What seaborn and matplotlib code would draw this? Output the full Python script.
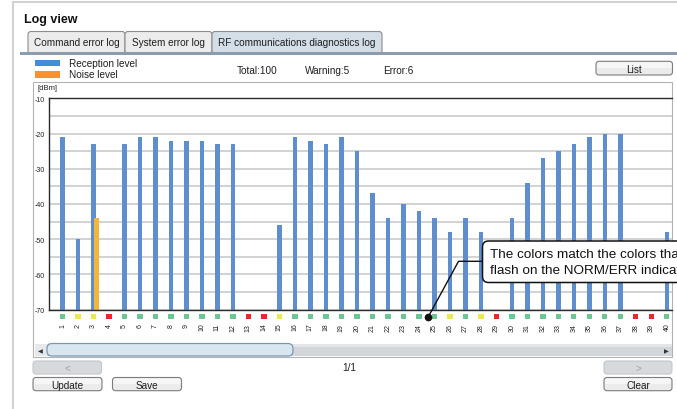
import numpy as np
import pandas as pd
import matplotlib.pyplot as plt
import seaborn as sns
from matplotlib.patches import FancyBboxPatch, Rectangle

sample_no = list(range(1, 41))
reception_dbm = [-21, -50, -23, np.nan, -23, -21, -21, -22, -22, -22,
                 -23, -23, np.nan, np.nan, -46, -21, -22, -23, -21, -25,
                 -37, -44, -40, -42, -44, -48, -44, -48, np.nan, -44,
                 -34, -27, -25, -23, -21, -20, -20, np.nan, np.nan, -48]
noise_sample = [3]
noise_dbm = [-44]
status = ['norm', 'warn', 'warn', 'err', 'norm', 'norm', 'norm', 'norm', 'norm', 'norm',
          'norm', 'norm', 'err', 'err', 'warn', 'norm', 'norm', 'norm', 'norm', 'norm',
          'norm', 'norm', 'norm', 'norm', 'norm', 'warn', 'norm', 'warn', 'err', 'norm',
          'norm', 'norm', 'norm', 'norm', 'norm', 'norm', 'norm', 'err', 'err', 'norm']
y_ticks_dbm = [-70, -60, -50, -40, -30, -20, -10]

FLOOR = -70
TOP = -10

BLUE = '#5f8ecf'
ORANGE = '#f4b53a'
STATUS_COLORS = {'norm': '#6cc794', 'warn': '#ece94a', 'err': '#e8282b'}

W, H = 677, 410

sns.set_style("white")
plt.rcParams['font.family'] = ['Liberation Sans', 'DejaVu Sans']

fig = plt.figure(figsize=(W / 100, H / 100), dpi=100)
fig.patch.set_facecolor('white')

# background "UI" axes in pixel coordinates (origin top-left)
ui = fig.add_axes([0, 0, 1, 1], zorder=0)
ui.set_xlim(0, W)
ui.set_ylim(H, 0)
ui.axis('off')


def button(ax, x0, y0, x1, y1, label, enabled=True):
    face = '#ebebeb' if enabled else '#d7dadd'
    edge = '#7d7d7d' if enabled else '#c2c6ca'
    ax.add_patch(FancyBboxPatch((x0, y0), x1 - x0, y1 - y0,
                                boxstyle='round,pad=0,rounding_size=3',
                                fc=face, ec=edge, lw=0.8))
    if enabled:
        # lighter upper half for the glossy look
        ax.add_patch(FancyBboxPatch((x0 + 1, y0 + 1), x1 - x0 - 2, (y1 - y0) / 2 - 1,
                                    boxstyle='round,pad=0,rounding_size=2',
                                    fc='#f6f6f6', ec='none'))
    ax.text((x0 + x1) / 2, (y0 + y1) / 2 + 0.5, label, ha='center', va='center',
            fontsize=7.2, color='#1e1e1e' if enabled else '#9ea3a8')


# outer frame
ui.plot([13, 13], [3, H], color='#d2d2d2', lw=1.5)
ui.plot([13, W], [3, 3], color='#d2d2d2', lw=1.5)
ui.text(24, 20, 'Log view', fontsize=9, fontweight='bold', va='center', color='#111')

# tabs
tabs = [(28, 125, 'Command error log', '#ececec'),
        (125, 212, 'System error log', '#ececec'),
        (212, 382, 'RF communications diagnostics log', '#d3dee7')]
for x0, x1, label, fc in tabs:
    ui.add_patch(FancyBboxPatch((x0, 32.5), x1 - x0, 22, boxstyle='round,pad=0,rounding_size=3',
                                fc=fc, ec='#8c8c8c', lw=0.8))
    ui.text(x0 + 6.5, 43.5, label, fontsize=7.2, va='center', color='#1e1e1e')
ui.add_patch(Rectangle((20, 52.8), W - 20, 3.6, fc='#8a9cae', ec='none'))

# legend and counters
ui.add_patch(Rectangle((35, 60.7), 25, 6.6, fc='#3d8fd9', ec='none'))
ui.add_patch(Rectangle((35, 72), 25, 6.6, fc='#f39237', ec='none'))
ui.text(69, 64.3, 'Reception level', fontsize=7.2, va='center', color='#1e1e1e')
ui.text(69, 75.3, 'Noise level', fontsize=7.2, va='center', color='#1e1e1e')
warn_count = status.count('warn')
err_count = status.count('err')
ui.text(237, 71, f'Total:{100}', fontsize=7.2, va='center', color='#1e1e1e')
ui.text(305, 71, f'Warning:{warn_count}', fontsize=7.2, va='center', color='#1e1e1e')
ui.text(383, 71, f'Error:{err_count}', fontsize=7.2, va='center', color='#1e1e1e')
button(ui, 596, 62.3, 672.5, 76, 'List')

# chart box
ui.add_patch(Rectangle((33, 82.5), 639, 275, fc='white', ec='#b3b3b3', lw=0.8))
ui.text(37, 88, '[dBm]', fontsize=5.5, va='center', color='#222')

# scrollbar
ui.add_patch(Rectangle((35, 345), 637, 12, fc='#d2d6db', ec='none'))
ui.add_patch(Rectangle((35, 345), 637, 3, fc='#e3e6e9', ec='none'))
ui.add_patch(Rectangle((35, 345), 12, 12, fc='#e6e9ec', ec='none'))
ui.add_patch(FancyBboxPatch((47, 344.5), 246, 12.5, boxstyle='round,pad=0,rounding_size=5',
                            fc='#d8e6f1', ec='#7b97b1', lw=0.9))
ui.text(40.5, 351.5, '\u25c0', fontsize=4.5, ha='center', va='center', color='#333')
ui.text(666, 352, '\u25b6', fontsize=4.5, ha='center', va='center', color='#333')

# navigation and action buttons
button(ui, 33, 362, 101.5, 375, '<', enabled=False)
button(ui, 604, 362, 672, 375, '>', enabled=False)
button(ui, 33, 378.5, 102, 391.7, 'Update')
button(ui, 112.5, 378.5, 181.5, 391.7, 'Save')
button(ui, 604, 378.5, 672, 391.7, 'Clear')
ui.text(349, 368.3, '1/1', fontsize=7.2, ha='center', va='center', color='#1e1e1e')

# --- Bar chart ---
ax_left, ax_right, ax_top, ax_bottom = 49, 672, 99.3, 310.5
ax = fig.add_axes([ax_left / W, 1 - ax_bottom / H, (ax_right - ax_left) / W, (ax_bottom - ax_top) / H],
                  zorder=1)
ax.patch.set_visible(False)

df = pd.DataFrame({'sample': sample_no, 'dbm': reception_dbm, 'status': status})
df['level'] = df['dbm'] - FLOOR
bars = df.dropna(subset=['dbm'])
noise = pd.DataFrame({'sample': [s + 0.18 for s in noise_sample],
                      'level': [v - FLOOR for v in noise_dbm]})

sns.barplot(data=bars, x='sample', y='level', native_scale=True, width=0.3, color=BLUE,
            saturation=1, errorbar=None, linewidth=0, ax=ax)
sns.barplot(data=noise, x='sample', y='level', native_scale=True, width=0.3, color=ORANGE,
            saturation=1, errorbar=None, linewidth=0, ax=ax)
sns.scatterplot(x=df['sample'], y=[-2.0] * len(df), hue=df['status'], palette=STATUS_COLORS,
                marker='s', s=14, linewidth=0, legend=False, clip_on=False, zorder=4, ax=ax)

ax.set_xlim(0.13, 40.33)
ax.set_ylim(0, TOP - FLOOR)
ax.set_xticks(sample_no)
ax.set_xticklabels([str(s) for s in sample_no], rotation=90, fontsize=5, color='#222')
ax.set_yticks([t - FLOOR for t in y_ticks_dbm])
ax.set_yticklabels([str(t) for t in y_ticks_dbm], fontsize=5, color='#222')
ax.set_yticks(list(range(5, TOP - FLOOR, 10)), minor=True)
ax.tick_params(axis='x', length=0, pad=9.5)
ax.tick_params(axis='y', which='major', length=1.5, width=0.8, pad=1.5, color='#222')
ax.tick_params(axis='y', which='minor', length=0)
ax.grid(axis='y', which='both', color='#c6c6c6', lw=1.1)
ax.set_axisbelow(True)
ax.set_xlabel('')
ax.set_ylabel('')
for side in ['left', 'top', 'bottom']:
    ax.spines[side].set_color('#2b2b2b')
    ax.spines[side].set_linewidth(1.0)
ax.spines['right'].set_visible(False)

# --- Callout (runs off the right edge, as in the original screenshot) ---
ov = fig.add_axes([0, 0, 1, 1], zorder=5)
ov.set_xlim(0, W)
ov.set_ylim(H, 0)
ov.axis('off')
ov.plot([482.5, 458.5, 428], [262.3, 262.3, 318.3], color='#111', lw=1.0)
ov.plot(428, 318.3, 'o', ms=4.5, color='#111')
ov.add_patch(FancyBboxPatch((482.5, 242), 240, 41.5, boxstyle='round,pad=0,rounding_size=6',
                            fc='white', ec='#111', lw=1.1))
ov.text(490, 255, 'The colors match the colors that', fontsize=9.7, va='center', color='#111')
ov.text(490, 271, 'flash on the NORM/ERR indicators', fontsize=9.7, va='center', color='#111')

fig.savefig('out.png', dpi=100)
